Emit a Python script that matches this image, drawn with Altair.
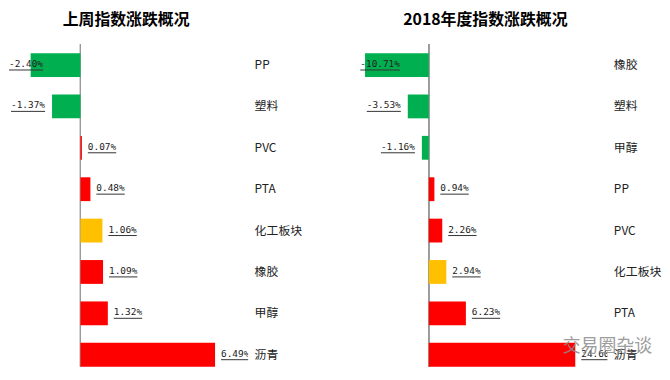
import altair as alt
import pandas as pd

# ---- data ----
left_cats = ["PP", "塑料", "PVC", "PTA", "化工板块", "橡胶", "甲醇", "沥青"]
left_vals = [-2.40, -1.37, 0.07, 0.48, 1.06, 1.09, 1.32, 6.49]
right_cats = ["橡胶", "塑料", "甲醇", "PP", "PVC", "化工板块", "PTA", "沥青"]
right_vals = [-10.71, -3.53, -1.16, 0.94, 2.26, 2.94, 6.23, 24.60]
highlight = "化工板块"
left_title = "上周指数涨跌概况"
right_title = "2018年度指数涨跌概况"
watermark = "交易圈杂谈"

GREEN, RED, YELLOW = "#00B050", "#FF0000", "#FFC000"
H = 325
LABEL_FONT = "DejaVu Sans Mono"
LABEL_SIZE = 9.5
CHAR_W = LABEL_SIZE * 0.602
CAT_FONT = "Noto Sans CJK SC"


def panel(cats, vals, title, domain, width, title_dx, extra=None):
    df = pd.DataFrame({"cat": cats, "value": vals})
    df["zero"] = 0.0
    df["label"] = [f"{v:.2f}%" for v in vals]
    df["kind"] = ["hl" if c == highlight else ("neg" if v < 0 else "pos")
                  for c, v in zip(cats, vals)]
    ppu = width / (domain[1] - domain[0])
    widths = [len(l) * CHAR_W for l in df["label"]]
    # label anchor (left edge) in data units, clamped inside the plot like Excel
    df["tx"] = [v + 6 / ppu if v >= 0 else max(v - (7 + w) / ppu, domain[0] + 1 / ppu)
                for v, w in zip(vals, widths)]
    df["tx2"] = [t + w / ppu for t, w in zip(df["tx"], widths)]

    xs = alt.Scale(domain=domain, nice=False, zero=False)
    x = alt.X("value:Q", scale=xs, axis=None)
    y = alt.Y("cat:N", sort=cats, title=None,
              scale=alt.Scale(paddingInner=0.4245, paddingOuter=0.109, align=1),
              axis=alt.Axis(orient="right", domain=False, ticks=False,
                            labelPadding=6, labelFont=CAT_FONT,
                            labelFontSize=12, labelColor="#222",
                            labelAlign="left", grid=False))
    base = alt.Chart(df)
    bars = base.mark_bar().encode(
        x=x, x2="zero:Q", y=y,
        color=alt.Color("kind:N", scale=alt.Scale(domain=["neg", "pos", "hl"],
                                                  range=[GREEN, RED, YELLOW]),
                        legend=None))
    zero = base.mark_rule(color="#9a9a9a", strokeWidth=1).encode(
        x=alt.X("zero:Q", scale=xs, axis=None), y=alt.value(0), y2=alt.value(H))
    txt = base.mark_text(
        align="left", dy=-1, fontSize=LABEL_SIZE, font=LABEL_FONT, color="#222",
        clip=True).encode(x=alt.X("tx:Q", scale=xs, axis=None), y=y, text="label:N")
    ul = base.mark_rule(color="#333", strokeWidth=1, yOffset=5, clip=True).encode(
        x=alt.X("tx:Q", scale=xs, axis=None), x2="tx2:Q", y=y)
    layers = [zero, bars, txt, ul]
    if extra is not None:
        layers.append(extra)
    return alt.layer(*layers).properties(
        width=width, height=H,
        title=alt.TitleParams(title, fontSize=16, font=CAT_FONT, fontWeight="bold",
                              color="#000", anchor="middle", frame="group",
                              dx=title_dx, offset=16))


wm = alt.Chart(pd.DataFrame({"t": [watermark]})).mark_text(
    fontSize=18, font=CAT_FONT, color="#8c8c8c", opacity=0.85, align="center"
).encode(x=alt.value(250), y=alt.value(305), text="t:N")

left = panel(left_cats, left_vals, left_title, [-3.493, 8.086], 242, -2)
right = panel(right_cats, right_vals, right_title, [-11.67, 30.0], 250, 2, wm)

chart = alt.hconcat(left, right, spacing=57).properties(
    padding={"left": 0, "top": 2, "right": 0, "bottom": 0}
).configure_view(stroke=None)

chart.save("out.html", embed_options={"renderer": "svg", "actions": False})
